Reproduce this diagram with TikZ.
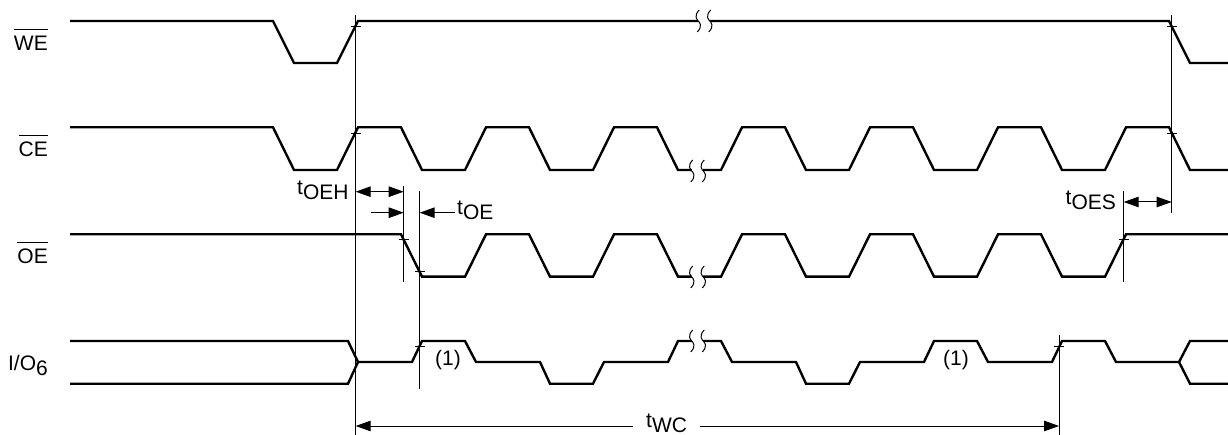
\documentclass[tikz,border=0pt]{standalone}
\usepackage{fontspec}
\setmainfont{Liberation Sans}
\usetikzlibrary{arrows.meta}
\newcommand{\tsig}[1]{t\raisebox{-5pt}{#1}}
\newcommand{\ovl}[1]{\setbox0=\hbox{#1}\rlap{\raisebox{20.7pt}{\rule{\wd0}{1pt}}}\box0}
\tikzset{
  x=1pt,y=-1pt,
  wave/.style={line width=2.4pt,black,miter limit=10},
  guide/.style={line width=1pt,black},
  tickmark/.style={line width=0.9pt,black},
  dimline/.style={line width=1pt,black},
  dimboth/.style={dimline,{Triangle[length=15pt,width=10.5pt]}-{Triangle[length=15pt,width=10.5pt]}},
  dimend/.style={dimline,-{Triangle[length=15pt,width=10.5pt]}},
  lab/.style={anchor=base east,inner sep=0pt,font=\fontsize{21}{23}\selectfont},
  tlab/.style={anchor=base west,inner sep=0pt,font=\fontsize{21}{23}\selectfont},
  brk/.pic={
    \fill[white] (-5.75,-3) rectangle (5.75,3);
    \draw[line width=1pt,black] (-4.75,-11) .. controls (-10.75,-5) and (-6.75,-1) .. (-5.75,0) .. controls (-4.75,1) and (-0.75,5) .. (-6.75,11);
    \draw[line width=1pt,black] (6.75,-11) .. controls (0.75,-5) and (4.75,-1) .. (5.75,0) .. controls (6.75,1) and (10.75,5) .. (4.75,11);
  }
}
\begin{document}
\begin{tikzpicture}
\useasboundingbox (0,0) rectangle (1228,435);
% WE
\draw[wave] (70,21) -- (273,21) -- (294,63) -- (337,63) -- (358,21) -- (1169,21) -- (1190,63) -- (1228,63);
% CE
\draw[wave] (70,127.3) -- (273,127.3) -- (294,170) -- (337,170) -- (358,127.3) -- (401,127.3) -- (422,170) -- (465,170) -- (486,127.3) -- (529,127.3) -- (550,170) -- (593,170) -- (614,127.3) -- (657,127.3) -- (678,170) -- (721,170) -- (742,127.3) -- (785,127.3) -- (806,170) -- (849,170) -- (870,127.3) -- (913,127.3) -- (934,170) -- (977,170) -- (998,127.3) -- (1041,127.3) -- (1062,170) -- (1105,170) -- (1126,127.3) -- (1169,127.3) -- (1190,170) -- (1228,170);
% OE
\draw[wave] (70,234.3) -- (401,234.3) -- (422,276.7) -- (465,276.7) -- (486,234.3) -- (529,234.3) -- (550,276.7) -- (593,276.7) -- (614,234.3) -- (657,234.3) -- (678,276.7) -- (721,276.7) -- (742,234.3) -- (785,234.3) -- (806,276.7) -- (849,276.7) -- (870,234.3) -- (913,234.3) -- (934,276.7) -- (977,276.7) -- (998,234.3) -- (1041,234.3) -- (1062,276.7) -- (1105,276.7) -- (1126,234.3) -- (1228,234.3);
% IO
\draw[wave] (70,341) -- (348,341) -- (358,362) -- (348,383.7) -- (70,383.7);
\draw[wave] (358,362) -- (412,362) -- (422,341) -- (465,341) -- (476,362) -- (540,362) -- (550,383.7) -- (593,383.7) -- (604,362) -- (668,362) -- (678,341) -- (721,341) -- (732,362) -- (796,362) -- (806,383.7) -- (849,383.7) -- (860,362) -- (924,362) -- (934,341) -- (977,341) -- (988,362) -- (1052,362) -- (1062,341) -- (1105,341) -- (1116,362) -- (1179,362) -- (1190,341) -- (1228,341);
\draw[wave] (1179,362) -- (1190,383.7) -- (1228,383.7);
% breaks
\pic at (704,21) {brk};
\pic at (697.5,171) {brk};
\pic at (697.5,277) {brk};
\pic at (697.5,341) {brk};
% guides
\coordinate (g1t) at (355.7,15);    \coordinate (g1b) at (355.7,435);
\coordinate (g2t) at (1171.7,15);   \coordinate (g2b) at (1171.7,213);
\coordinate (g3t) at (403.7,186);   \coordinate (g3b) at (403.7,282);
\coordinate (g4t) at (419.7,191);   \coordinate (g4b) at (419.7,389);
\coordinate (g5t) at (1123.7,191);  \coordinate (g5b) at (1123.7,282);
\coordinate (g6t) at (1059,335);  \coordinate (g6b) at (1059,435);
\foreach \i in {1,...,6} \draw[guide] (g\i t) -- (g\i b);
% ticks
\foreach \px/\py in {355.7/26,355.7/133,1171.7/26,1171.7/133,403.7/239.5,419.7/271,419.7/346,1123.7/239.5,1059/346}
  \draw[tickmark] (\px-5,\py) -- (\px+5,\py);
% dimension arrows
\coordinate (a1) at (355.7,191.7); \coordinate (b1) at (403.7,191.7);
\draw[dimboth] (a1) -- (b1);
\coordinate (a2) at (371,212.7); \coordinate (b2) at (403.7,212.7);
\draw[dimend] (a2) -- (b2);
\coordinate (a3) at (455,212.7); \coordinate (b3) at (419.7,212.7);
\draw[dimend] (a3) -- (b3);
\coordinate (a4) at (1123.7,202); \coordinate (b4) at (1171.7,202);
\draw[dimboth] (a4) -- (b4);
\coordinate (a5) at (633,426); \coordinate (b5) at (355.7,426);
\draw[dimend] (a5) -- (b5);
\coordinate (a6) at (700,426); \coordinate (b6) at (1059,426);
\draw[dimend] (a6) -- (b6);
% labels
\node[lab] (lwe) at (48,50.7) {\ovl{WE}};
\node[lab] (lce) at (48,156.7) {\ovl{CE}};
\node[lab] (loe) at (48,264) {\ovl{OE}};
\node[lab] (lio) at (48,370.7) {I/O\raisebox{-5pt}{6}};
\node[tlab] (n1) at (435,365) {(1)};
\node[tlab] (n2) at (943,365) {(1)};
\node[tlab] (toeh) at (297,195) {\tsig{OEH}};
\node[tlab] (toe) at (457,215) {\tsig{OE}};
\node[tlab] (toes) at (1065.5,205) {\tsig{OES}};
\node[tlab] (twc) at (646,427.5) {\tsig{WC}};
\end{tikzpicture}
\end{document}
